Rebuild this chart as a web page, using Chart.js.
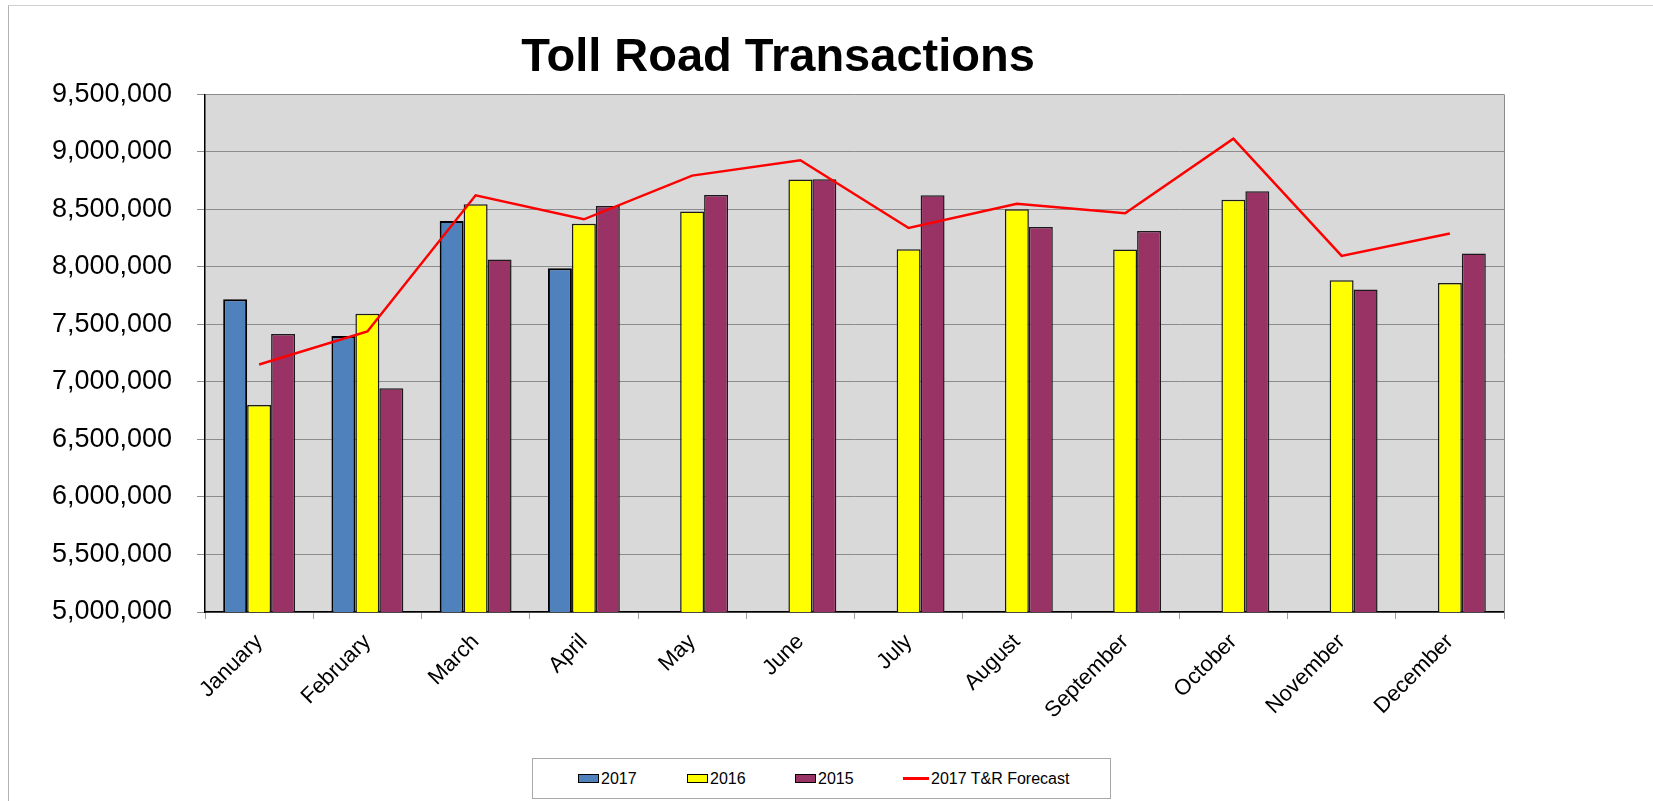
<!DOCTYPE html>
<html>
<head>
<meta charset="utf-8">
<script src="https://cdn.jsdelivr.net/npm/chart.js@4.4.1/dist/chart.umd.min.js"></script>
<style>
  html, body { margin: 0; padding: 0; background: #fff; overflow: hidden; }
  body { width: 1653px; height: 801px; position: relative; font-family: 'Liberation Sans', Arial, sans-serif; }
  #frame { position: absolute; left: 8px; top: 5px; width: 1700px; height: 820px;
           border-top: 1px solid #d0d0d0; border-left: 1px solid #b4b4b4; }
  #wrap { position: absolute; left: 9px; top: 6px; width: 1538px; height: 795px; }
  #legend { position: absolute; left: 532px; top: 758px; width: 577px; height: 39px;
            border: 1px solid #a8a8a8; background: #fff; font-size: 16px; color: #000; }
  .item { position: absolute; top: 0; height: 39px; display: flex; align-items: center; }
  .sw { width: 19px; height: 7px; border: 1.5px solid #000; margin-right: 2px; }
  .ln { width: 26px; height: 3px; background: #ff0000; margin-right: 2px; }
</style>
</head>
<body>
<div id="frame"></div>
<div id="wrap"><canvas id="chart"></canvas></div>
<div id="legend">
  <div class="item" style="left:45px"><span class="sw" style="background:#4f81bd"></span>2017</div>
  <div class="item" style="left:154px"><span class="sw" style="background:#ffff00"></span>2016</div>
  <div class="item" style="left:262px"><span class="sw" style="background:#993366"></span>2015</div>
  <div class="item" style="left:370px"><span class="ln"></span>2017 T&amp;R Forecast</div>
</div>
<script>
const months = ['January', 'February', 'March', 'April', 'May', 'June', 'July',
                'August', 'September', 'October', 'November', 'December'];
const trans2017 = [7720000, 7400000, 8400000, 7988000, null, null, null, null, null, null, null, null];
const trans2016 = [6800000, 7594000, 8545000, 8375000, 8481000, 8760000, 8154000, 8501000, 8151000, 8585000, 7885000, 7861000];
const trans2015 = [7418000, 6946000, 8064000, 8530000, 8626000, 8762000, 8623000, 8348000, 8313000, 8657000, 7803000, 8116000];
const forecast2017 = [7152000, 7439000, 8623000, 8414000, 8794000, 8927000, 8339000, 8550000, 8466000, 9115000, 8096000, 8290000];
const yMin = 5000000, yMax = 9500000, yStep = 500000;

const FONT = "'Liberation Sans', Arial, sans-serif";

// grey plot background + right edge of the plot frame
const plotFrame = {
    id: 'plotFrame',
    beforeDraw(chart) {
        const { ctx, chartArea: a } = chart;
        ctx.save();
        ctx.fillStyle = '#d9d9d9';
        ctx.fillRect(a.left, a.top, a.right - a.left, a.bottom - a.top);
        ctx.restore();
    },
    beforeDatasetsDraw(chart) {
        const { ctx, chartArea: a } = chart;
        ctx.save();
        ctx.strokeStyle = '#8c8c8c';
        ctx.lineWidth = 1;
        ctx.beginPath();
        ctx.moveTo(a.right + 0.5, a.top);
        ctx.lineTo(a.right + 0.5, a.bottom + 7);
        ctx.stroke();
        ctx.restore();
    }
};

new Chart(document.getElementById('chart'), {
    type: 'bar',
    data: {
        labels: months,
        datasets: [
            { type: 'line', label: '2017 T&R Forecast', data: forecast2017, borderColor: '#ff0000',
              borderWidth: 2.5, pointRadius: 0, tension: 0, fill: false, order: 0 },
            { label: '2017', data: trans2017, backgroundColor: '#4f81bd', borderColor: '#000', borderWidth: 2, order: 1 },
            { label: '2016', data: trans2016, backgroundColor: '#ffff00', borderColor: '#1a1a1a', borderWidth: 1.5, order: 1 },
            { label: '2015', data: trans2015, backgroundColor: '#993366', borderColor: '#1a1a1a', borderWidth: 1.5, order: 1 }
        ]
    },
    options: {
        responsive: true,
        maintainAspectRatio: false,
        animation: false,
        datasets: { bar: { categoryPercentage: 0.664, barPercentage: 1.0 } },
        layout: { padding: { left: 43, right: 43, top: 0, bottom: 69 } },
        plugins: {
            legend: { display: false },
            tooltip: { enabled: false },
            title: {
                display: true,
                text: 'Toll Road Transactions',
                color: '#000',
                font: { family: FONT, size: 47, weight: 'bold', lineHeight: 1.2 },
                padding: { top: 24, bottom: 8 }
            }
        },
        scales: {
            x: {
                afterFit: s => { s.height = 120; },
                grid: { offset: true, drawOnChartArea: false, drawTicks: true, tickLength: 7, tickColor: '#a0a0a0' },
                border: { color: '#000', width: 1.5 },
                ticks: { color: '#000', font: { family: FONT, size: 22 }, maxRotation: 45, minRotation: 45, padding: 10 }
            },
            y: {
                min: yMin, max: yMax,
                afterFit: s => { s.width = 153; },
                grid: { color: '#8c8c8c', lineWidth: 1, tickLength: 8, tickColor: '#8c8c8c' },
                border: { color: '#000', width: 1.5 },
                ticks: {
                    stepSize: yStep, color: '#000', padding: 25,
                    font: { family: FONT, size: 27 },
                    callback: v => v.toLocaleString('en-US')
                }
            }
        }
    },
    plugins: [plotFrame]
});
</script>
</body>
</html>
